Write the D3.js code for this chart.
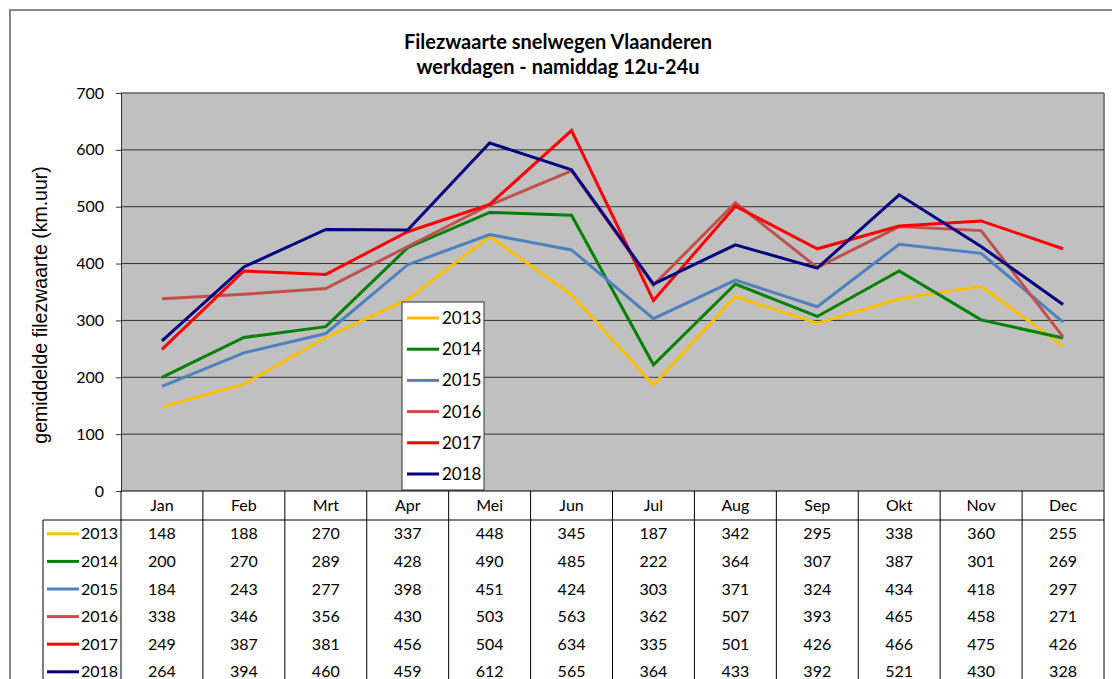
<!DOCTYPE html>
<html><head><meta charset="utf-8">
<script src="https://cdn.jsdelivr.net/npm/d3@7"></script>
<style>body{margin:0;background:#fff;}svg{display:block;font-family:Lato,"Open Sans",sans-serif;}</style>
</head><body>
<svg id="c" width="1112" height="679"></svg>
<script>
const months = ["Jan","Feb","Mrt","Apr","Mei","Jun","Jul","Aug","Sep","Okt","Nov","Dec"];
const years = ["2013","2014","2015","2016","2017","2018"];
const colors = ["#FFC000","#008000","#4F81BD","#C0504D","#FF0000","#000080"];
const v2013 = [148,188,270,337,448,345,187,342,295,338,360,255];
const v2014 = [200,270,289,428,490,485,222,364,307,387,301,269];
const v2015 = [184,243,277,398,451,424,303,371,324,434,418,297];
const v2016 = [338,346,356,430,503,563,362,507,393,465,458,271];
const v2017 = [249,387,381,456,504,634,335,501,426,466,475,426];
const v2018 = [264,394,460,459,612,565,364,433,392,521,430,328];
const yTicks = [0,100,200,300,400,500,600,700];
const series = [v2013,v2014,v2015,v2016,v2017,v2018];

const svg = d3.select("#c");
const L=121, R=1104, T=93, B=491;
const x = d3.scaleBand().domain(months).range([L,R]);
const y = d3.scaleLinear().domain([0,700]).range([B,T]);

// outer frame
svg.append("rect").attr("x",10).attr("y",10).attr("width",1120).attr("height",700)
  .attr("fill","#fff").attr("stroke","#888").attr("stroke-width",2);

// title
svg.append("text").attr("x",558).attr("y",49).attr("text-anchor","middle")
  .attr("font-weight","bold").attr("font-size",20).text("Filezwaarte snelwegen Vlaanderen");
svg.append("text").attr("x",558).attr("y",74).attr("text-anchor","middle")
  .attr("font-weight","bold").attr("font-size",20).text("werkdagen - namiddag 12u-24u");

// plot area
svg.append("rect").attr("x",L).attr("y",T).attr("width",R-L).attr("height",B-T).attr("fill","#C0C0C0");
svg.append("line").attr("x1",R).attr("x2",R).attr("y1",T).attr("y2",B).attr("stroke","#808080").attr("stroke-width",2);
svg.append("line").attr("x1",L).attr("x2",R).attr("y1",T).attr("y2",T).attr("stroke","#606060").attr("stroke-width",1.5);

// gridlines
svg.append("g").selectAll("line").data(yTicks.filter(d=>d>0 && d<700)).join("line")
  .attr("x1",L).attr("x2",R).attr("y1",d=>y(d)).attr("y2",d=>y(d))
  .attr("stroke","#333").attr("stroke-width",1);

// y axis
const ya = svg.append("g").attr("transform",`translate(${L},0)`)
  .call(d3.axisLeft(y).tickValues(yTicks).tickSize(5).tickPadding(12));
ya.select(".domain").attr("stroke","#333");
ya.selectAll(".tick line").attr("stroke","#333");
ya.selectAll("text").attr("font-size",16).attr("fill","#000").attr("font-family","Lato,sans-serif");

svg.append("text").attr("transform","translate(47,305) rotate(-90)").attr("text-anchor","middle")
  .attr("font-family","'Liberation Sans',Arial,sans-serif")
  .attr("font-size",19.5).text("gemiddelde filezwaarte  (km.uur)");

// lines
const line = d3.line().x((d,i)=>x(months[i])+x.bandwidth()/2).y(d=>y(d));
series.forEach((s,k)=>{
  svg.append("path").datum(s).attr("d",line).attr("fill","none")
    .attr("stroke",colors[k]).attr("stroke-width",3).attr("stroke-linejoin","miter");
});

// legend
const lg = svg.append("g");
lg.append("rect").attr("x",402).attr("y",302).attr("width",82).attr("height",188)
  .attr("fill","#fff").attr("stroke","#333").attr("stroke-width",1);
years.forEach((yr,k)=>{
  const cy = 318 + k*31.2;
  lg.append("line").attr("x1",407).attr("x2",439).attr("y1",cy).attr("y2",cy)
    .attr("stroke",colors[k]).attr("stroke-width",3);
  lg.append("text").attr("x",442).attr("y",cy+6).attr("font-size",17).text(yr);
});

// data table
const hdrB = 520, rowH = 27.6;
const tb = svg.append("g");
tb.append("line").attr("x1",43).attr("x2",R).attr("y1",hdrB).attr("y2",hdrB).attr("stroke","#000");
tb.append("line").attr("x1",L).attr("x2",R).attr("y1",B).attr("y2",B).attr("stroke","#000");
const vx = months.map(m=>x(m)).concat([R]);
tb.selectAll(".vl").data(vx).join("line")
  .attr("x1",d=>d).attr("x2",d=>d).attr("y1",B).attr("y2",679).attr("stroke","#000");
tb.append("line").attr("x1",43).attr("x2",43).attr("y1",hdrB).attr("y2",679).attr("stroke","#000");
tb.selectAll(".mh").data(months).join("text")
  .attr("x",d=>x(d)+x.bandwidth()/2).attr("y",B+20).attr("text-anchor","middle")
  .attr("font-size",16).text(d=>d);
years.forEach((yr,k)=>{
  const cy = hdrB + rowH*k + rowH/2;
  tb.append("line").attr("x1",47).attr("x2",79).attr("y1",cy).attr("y2",cy)
    .attr("stroke",colors[k]).attr("stroke-width",3);
  tb.append("text").attr("x",81).attr("y",cy+5.5).attr("font-size",16).text(yr);
  tb.selectAll(null).data(series[k]).join("text")
    .attr("x",(d,i)=>x(months[i])+x.bandwidth()/2).attr("y",cy+5.5).attr("text-anchor","middle")
    .attr("font-size",16).text(d=>d);
});
</script>
</body></html>
